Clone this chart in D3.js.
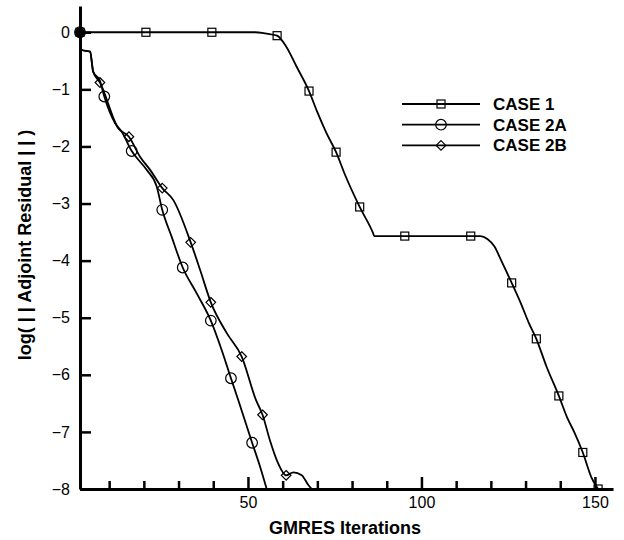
<!DOCTYPE html>
<html>
<head>
<meta charset="utf-8">
<script src="https://cdn.jsdelivr.net/npm/d3@7"></script>
<style>
  body { margin: 0; background: #fff; }
  text { font-family: "Liberation Sans", Arial, Helvetica, sans-serif; fill: #000; }
</style>
</head>
<body>
<div id="mainchart"></div>
<script>
// Datos (iteraciones GMRES vs log del residuo adjunto)
var case1X = [1.6, 20.6, 39.6, 52, 55, 58.4, 61, 64, 67.6, 70, 72.5, 75.4, 78, 82.2, 86.0, 86.4, 95.2, 114.2, 117, 119, 121, 123, 126, 129, 131, 133.1, 136, 139.6, 142, 144, 146.5, 149, 150.9];
var case1Y = [0, 0, 0, 0, -0.02, -0.06, -0.25, -0.6, -1.03, -1.4, -1.75, -2.1, -2.5, -3.06, -3.51, -3.57, -3.57, -3.57, -3.57, -3.62, -3.75, -4.0, -4.39, -4.8, -5.1, -5.37, -5.85, -6.37, -6.75, -7.0, -7.36, -7.8, -8.0];
var case1MarkX = [1.6, 20.6, 39.6, 58.4, 67.6, 75.4, 82.2, 95.2, 114.2, 126, 133.1, 139.6, 146.5, 150.9];
var case1MarkY = [0, 0, 0, -0.06, -1.03, -2.1, -3.06, -3.57, -3.57, -4.39, -5.37, -6.37, -7.36, -8.0];

var case2aX = [1.6, 2.1, 4.5, 5.4, 7.35, 8.6, 11.7, 13.6, 16.5, 20.8, 23.7, 25.3, 28.0, 31.2, 35.2, 39.3, 42.4, 45.1, 47.2, 51.2, 53.5, 55.4];
var case2aY = [0, -0.31, -0.34, -0.69, -0.85, -1.125, -1.59, -1.74, -2.08, -2.41, -2.70, -3.11, -3.58, -4.12, -4.57, -5.05, -5.56, -6.06, -6.44, -7.19, -7.61, -8.0];
var case2aMarkX = [1.6, 8.6, 16.5, 25.3, 31.2, 39.3, 45.1, 51.2];
var case2aMarkY = [0, -1.125, -2.08, -3.11, -4.12, -5.05, -6.06, -7.19];

var case2bX = [1.6, 2.1, 4.5, 5.4, 7.35, 12.6, 15.7, 18.9, 21.8, 25.3, 28.5, 33.5, 36.2, 39.3, 43.9, 48.2, 52.3, 54.2, 56.3, 58.7, 61.0, 63.1, 65.5, 67.4, 68.4];
var case2bY = [0, -0.31, -0.34, -0.69, -0.88, -1.68, -1.83, -2.18, -2.41, -2.73, -2.94, -3.68, -4.16, -4.73, -5.27, -5.68, -6.44, -6.70, -7.14, -7.55, -7.76, -7.71, -7.76, -7.93, -8.0];
var case2bMarkX = [1.6, 7.35, 15.7, 25.3, 33.5, 39.3, 48.2, 54.2, 61.0];
var case2bMarkY = [0, -0.88, -1.83, -2.73, -3.68, -4.73, -5.68, -6.70, -7.76];

var seriesNames = ["CASE 1", "CASE 2A", "CASE 2B"];
var xMajorTicks = [50, 100, 150];
var xMinorTicks = [10, 20, 30, 40, 60, 70, 80, 90, 110, 120, 130, 140];
var yTicks = [0, -1, -2, -3, -4, -5, -6, -7, -8];

// Dimensiones
var margin = {top: 6, right: 11, bottom: 51, left: 80},
    width = 624 - margin.left - margin.right,
    height = 540 - margin.top - margin.bottom;

var svg = d3.select("#mainchart").append("svg")
    .attr("width", 624)
    .attr("height", 540);

var g = svg.append("g")
    .attr("transform", "translate(" + margin.left + "," + margin.top + ")");

var x = d3.scaleLinear().domain([1.6, 155.2]).range([0, width]);
var y = d3.scaleLinear().domain([-8, 0.46]).range([height, 0]);

// clip abajo (los marcadores se cortan en el eje x)
g.append("clipPath").attr("id", "clip")
  .append("rect").attr("x", -20).attr("y", -20).attr("width", width + 40).attr("height", height + 20);

var series = [
  {name: seriesNames[0], xs: case1X, ys: case1Y, mx: case1MarkX, my: case1MarkY, sym: "square"},
  {name: seriesNames[1], xs: case2aX, ys: case2aY, mx: case2aMarkX, my: case2aMarkY, sym: "circle"},
  {name: seriesNames[2], xs: case2bX, ys: case2bY, mx: case2bMarkX, my: case2bMarkY, sym: "diamond"}
];

var line = d3.line()
    .x(function(d) { return x(d[0]); })
    .y(function(d) { return y(d[1]); })
    .curve(d3.curveMonotoneX);

// dibuja un marcador en (cx,cy)
function drawMarker(sel, sym, cx, cy) {
  if (sym == "square") {
    sel.append("rect").attr("x", cx - 4).attr("y", cy - 4).attr("width", 8).attr("height", 8)
      .attr("fill", "none").attr("stroke", "#000").attr("stroke-width", 1.2);
  } else if (sym == "circle") {
    sel.append("circle").attr("cx", cx).attr("cy", cy).attr("r", 5.3)
      .attr("fill", "none").attr("stroke", "#000").attr("stroke-width", 1.2);
  } else {
    sel.append("path")
      .attr("d", "M" + cx + "," + (cy - 4.8) + "L" + (cx + 4.8) + "," + cy + "L" + cx + "," + (cy + 4.8) + "L" + (cx - 4.8) + "," + cy + "Z")
      .attr("fill", "none").attr("stroke", "#000").attr("stroke-width", 1.2);
  }
}

var plot = g.append("g").attr("clip-path", "url(#clip)");

series.forEach(function(s) {
  var pts = s.xs.map(function(v, i) { return [v, s.ys[i]]; });
  plot.append("path")
    .datum(pts)
    .attr("fill", "none")
    .attr("stroke", "#000")
    .attr("stroke-width", 1.8)
    .attr("d", line);

  var mk = plot.append("g");
  s.mx.forEach(function(v, i) {
    drawMarker(mk, s.sym, x(v), y(s.my[i]));
  });
});

// los tres marcadores superpuestos en el origen se ven como un punto negro
plot.append("circle")
  .attr("cx", x(case1X[0])).attr("cy", y(case1Y[0])).attr("r", 4.5)
  .attr("fill", "#000");

// Ejes
var yAxis = d3.axisLeft(y).tickValues(yTicks).tickFormat(d3.format("d"))
    .tickSizeInner(-11).tickSizeOuter(0).tickPadding(10);
var gy = g.append("g").call(yAxis);

var xAxis = d3.axisBottom(x).tickValues(xMajorTicks).tickFormat(d3.format("d"))
    .tickSizeInner(-12).tickSizeOuter(0).tickPadding(8);
var gx = g.append("g").attr("transform", "translate(0," + height + ")").call(xAxis);

var xMinor = d3.axisBottom(x).tickValues(xMinorTicks).tickFormat("")
    .tickSizeInner(-8).tickSizeOuter(0);
var gxm = g.append("g").attr("transform", "translate(0," + height + ")").call(xMinor);
gxm.select(".domain").remove();

[gx, gy, gxm].forEach(function(a) {
  a.select(".domain").attr("stroke", "#000").attr("stroke-width", 3);
  a.selectAll(".tick line").attr("stroke", "#000").attr("stroke-width", 2.5);
  a.selectAll(".tick text").attr("font-size", 16).attr("font-family", null).attr("fill", "#000");
});

// Titulos de ejes
svg.append("text")
  .attr("x", 345).attr("y", 534)
  .attr("text-anchor", "middle")
  .attr("font-size", 18).attr("font-weight", "bold")
  .text("GMRES Iterations");

svg.append("text")
  .attr("transform", "translate(31,245) rotate(-90)")
  .attr("text-anchor", "middle")
  .attr("font-size", 18).attr("font-weight", "bold")
  .text("log( | | Adjoint Residual | | )");

// Leyenda
var legend = svg.append("g").attr("transform", "translate(402,104)");
series.forEach(function(s, i) {
  var ly = i * 20.7;
  legend.append("line").attr("x1", 0).attr("x2", 78).attr("y1", ly).attr("y2", ly)
    .attr("stroke", "#000").attr("stroke-width", 1.8);
  drawMarker(legend, s.sym, 39, ly);
  legend.append("text").attr("x", 91).attr("y", ly + 6)
    .attr("font-size", 17).attr("font-weight", "bold")
    .text(s.name);
});
</script>
</body>
</html>
